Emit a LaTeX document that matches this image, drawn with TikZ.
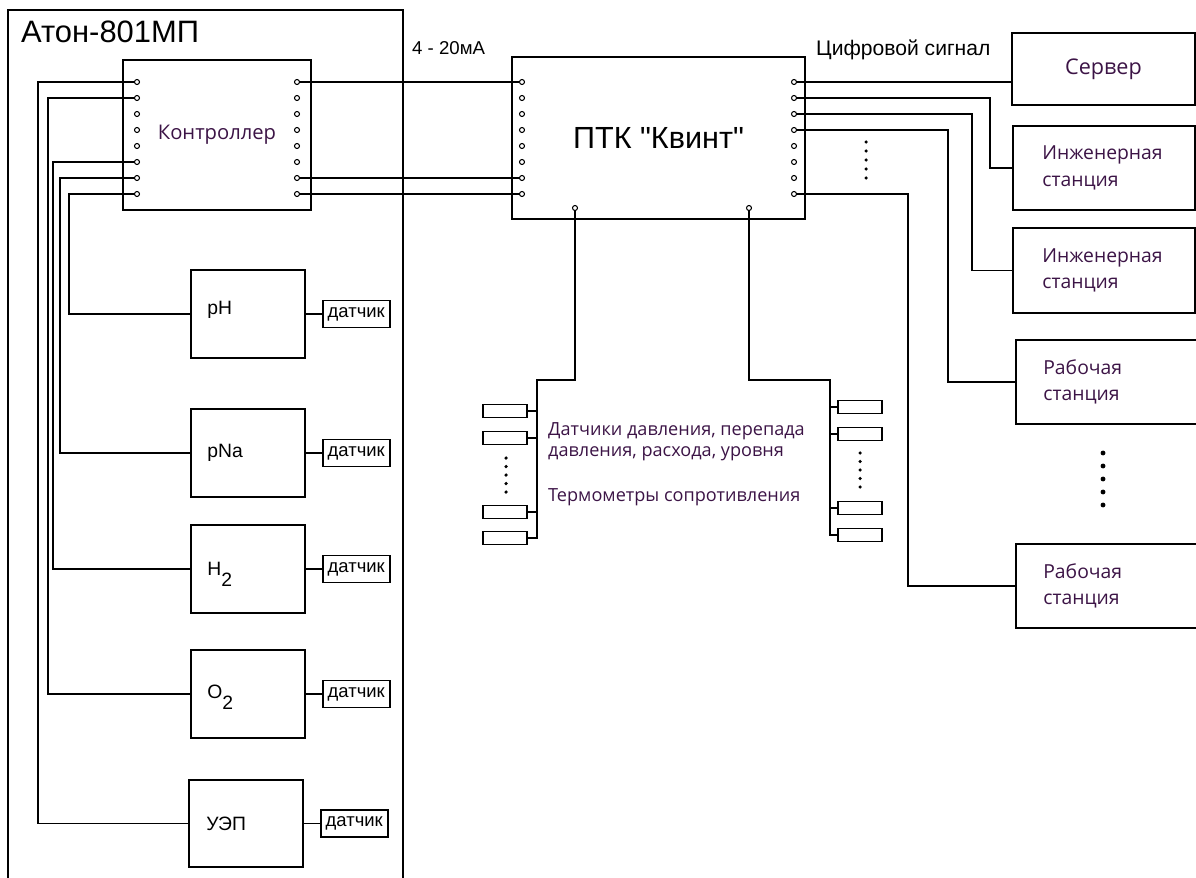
\documentclass[tikz,border=0pt]{standalone}
\usepackage{fontspec}
\setmainfont{Liberation Sans}
\newfontfamily\segoe{Open Sans}
\usetikzlibrary{positioning}
\definecolor{txtdark}{RGB}{60,20,70}

\begin{document}
\begin{tikzpicture}[x=0.02cm, y=-0.02cm,
    box/.style={draw, line width=1pt, inner sep=0pt},
    wire/.style={line width=1pt},
    pinc/.style={draw, circle, line width=0.6pt, fill=white, inner sep=0pt, minimum size=0.1cm},
    anal/.style={box, minimum width=2.28cm, minimum height=1.76cm},
    dat/.style={box, minimum width=1.34cm, minimum height=0.54cm, font=\fontsize{10.5}{10.5}\selectfont},
    sens/.style={box, line width=0.8pt, minimum width=0.88cm, minimum height=0.26cm},
    stn/.style={box, minimum width=3.64cm, minimum height=1.7cm},
    atxt/.style={anchor=west, font=\fontsize{11}{11}\selectfont},
    lbl/.style={anchor=west, align=left, text=txtdark, font=\segoe\fontsize{11}{15}\selectfont}]
        \useasboundingbox (0,0) rectangle (1196,878);
        \clip (0,0) rectangle (1196,878);

        % Aton frame
        \node[box, minimum width=7.9cm, minimum height=17.8cm] (aton) at (205.5,455) {};
        \node[anchor=west, font=\fontsize{17.6}{17.6}\selectfont] (aton-t) at (15,32) {Атон-801МП};

        % Controller
        \node[box, minimum width=3.76cm, minimum height=3cm, text=txtdark,
              font=\segoe\fontsize{11.5}{11.5}\selectfont] (ctrl) at (217,135) {Контроллер};

        % PTK Kvint
        \node[box, minimum width=5.86cm, minimum height=3.24cm,
              font=\fontsize{17.4}{17.4}\selectfont] (ptk) at (658.5,138) {ПТК \textquotedbl Квинт\textquotedbl};

        % Pins
        \foreach \i in {1,...,8} {
            \pgfmathsetmacro\py{66+16*\i}
            \node[pinc] (cl\i) at (137,\py) {};
            \node[pinc] (cr\i) at (297,\py) {};
            \node[pinc] (kl\i) at (522,\py) {};
            \node[pinc] (kr\i) at (794,\py) {};
        }
        \node[pinc] (kb1) at (575,208) {};
        \node[pinc] (kb2) at (749,208) {};

        % Analysers
        \node[anal] (ph) at (248,314) {};
        \node[anal] (pna) at (248,453) {};
        \node[anal] (h2) at (248,569) {};
        \node[anal] (o2) at (248,694) {};
        \node[anal, minimum height=1.74cm] (uep) at (246,823.5) {};
        \node[atxt, right=0.22cm of ph.west, yshift=0.08cm] (ph-t) {pH};
        \node[atxt, right=0.22cm of pna.west] (pna-t) {pNa};
        \node[atxt, right=0.22cm of h2.west, yshift=-0.1cm] (h2-t) {H\raisebox{-1.1ex}{2}};
        \node[atxt, right=0.22cm of o2.west, yshift=-0.06cm] (o2-t) {O\raisebox{-1.1ex}{2}};
        \node[atxt, right=0.24cm of uep.west] (uep-t) {УЭП};

        % Sensors of analysers
        \foreach \a in {ph,pna,h2,o2,uep} {
            \node[dat, right=0.32cm of \a.east] (\a-d) {датчик};
            \draw[wire] (\a) -- (\a-d);
        }

        % Controller -> analysers
        \draw[wire] (cl8) -- ++(-68,0) |- (ph);
        \draw[wire] (cl7) -- ++(-77,0) |- (pna);
        \draw[wire] (cl6) -- ++(-84,0) |- (h2);
        \draw[wire] (cl2) -- ++(-89,0) |- (o2);
        \draw[wire] (cl1) -- ++(-99,0) |- (uep);

        % Controller -> PTK, 4-20 mA
        \foreach \i in {1,7,8}
        \draw[wire] (cr\i) -- (kl\i);
        \node[anchor=west, font=\fontsize{10.6}{10.6}\selectfont] (ma-t) at (406,48) {4 - 20мА};

        % Stations
        \node[anchor=west, font=\fontsize{12}{12}\selectfont] (dig-t) at (810,50) {Цифровой сигнал};
        \node[box, minimum width=3.66cm, minimum height=1.44cm, text=txtdark,
              font=\segoe\fontsize{12.3}{12.3}\selectfont] (srv) at (1103.5,69) {Сервер};
        \node[stn, minimum height=1.68cm] (ing1) at (1104,168) {};
        \node[stn] (ing2) at (1104,270.5) {};
        \node[stn, minimum width=3.88cm, minimum height=1.68cm] (rab1) at (1113,382) {};
        \node[stn, minimum width=3.88cm, minimum height=1.68cm] (rab2) at (1113,586) {};
        \node[lbl, right=0.48cm of ing1.west] (ing1-t) {Инженерная\\станция};
        \node[lbl, right=0.48cm of ing2.west] (ing2-t) {Инженерная\\станция};
        \node[lbl, right=0.44cm of rab1.west] (rab1-t) {Рабочая\\станция};
        \node[lbl, right=0.44cm of rab2.west] (rab2-t) {Рабочая\\станция};

        % PTK -> stations
        \draw[wire] (kr1) -- (kr1 -| srv.west);
        \draw[wire] (kr2) -- ++(196,0) |- (ing1);
        \draw[wire] (kr3) -- ++(178,0) |- (ing2);
        \draw[wire] (kr4) -- ++(154,0) |- (rab1);
        \draw[wire] (kr8) -- ++(114,0) |- (rab2);
        \foreach \d in {0,...,4}
        \fill (866,{142+9*\d}) circle (1pt);
        \foreach \d in {0,...,4}
        \fill (1103,{453+13*\d}) circle (1.4pt);

        % Field sensors
        \node[sens] (sl1) at (505,411) {};
        \node[sens] (sl2) at (505,438) {};
        \node[sens] (sl3) at (505,512) {};
        \node[sens] (sl4) at (505,538) {};
        \node[sens] (sr1) at (860,407) {};
        \node[sens] (sr2) at (860,434) {};
        \node[sens] (sr3) at (860,508) {};
        \node[sens] (sr4) at (860,535) {};
        \draw[wire] (kb1) -- ++(0,172) -- ++(-38,0) |- (sl4);
        \foreach \s in {sl1,sl2,sl3}
        \draw[wire] (\s.east) -- ++(10,0);
        \draw[wire] (kb2) -- ++(0,172) -- ++(81,0) |- (sr4);
        \foreach \s in {sr1,sr2,sr3}
        \draw[wire] (\s.west) -- ++(-8,0);
        \foreach \d in {0,...,4}
        \fill (506,{458+8.5*\d}) circle (1pt);
        \foreach \d in {0,...,4}
        \fill (860,{453+8.5*\d}) circle (1pt);
        \node[lbl, font=\segoe\fontsize{10.3}{12}\selectfont] (sens-t1) at (542,442)
            {Датчики давления, перепада\\давления, расхода, уровня};
        \node[lbl, font=\segoe\fontsize{10.3}{12}\selectfont] (sens-t2) at (542,497)
            {Термометры сопротивления};
\end{tikzpicture}
\end{document}
